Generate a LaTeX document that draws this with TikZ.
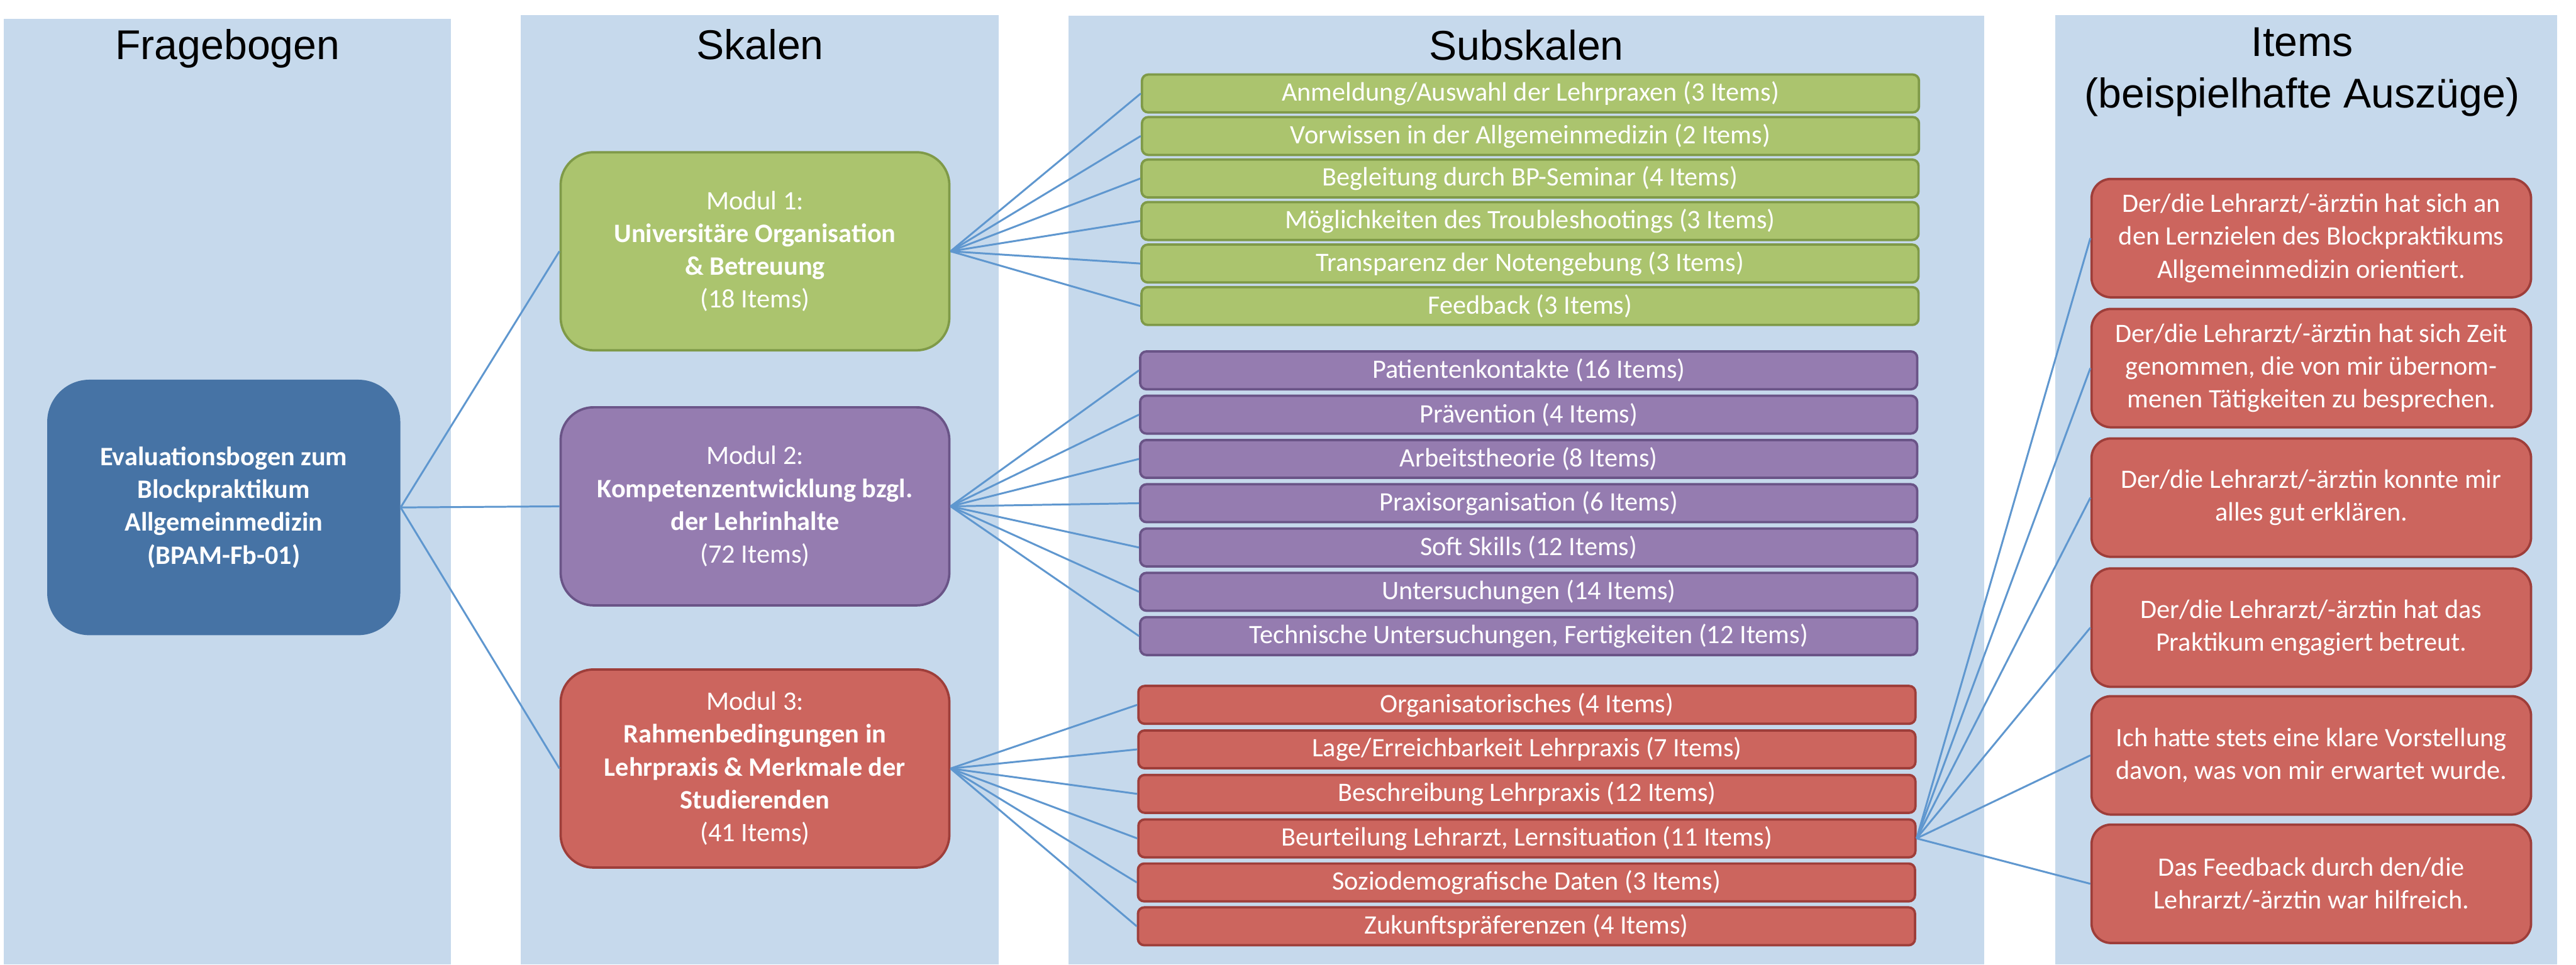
\documentclass[tikz,border=0pt]{standalone}
\usepackage{fontspec}
\setmainfont{Carlito}
\newfontfamily\headfont{Liberation Sans}

\definecolor{colbg}{HTML}{C6D9EC}
\definecolor{evalblau}{HTML}{4673A5}
\definecolor{gruen}{HTML}{ABC46E}
\definecolor{gruenrand}{HTML}{7F9A48}
\definecolor{lila}{HTML}{957CB0}
\definecolor{lilarand}{HTML}{6A5487}
\definecolor{rot}{HTML}{CC655E}
\definecolor{rotrand}{HTML}{9E3E3A}
\definecolor{linie}{HTML}{5F97CF}

\begin{document}
\begin{tikzpicture}[
    spalte/.style={fill=colbg},
    kopf/.style={font=\headfont\fontsize{26.6}{33}\selectfont, align=center},
    haupt/.style={fill=evalblau, rounded corners=0.95cm,
                  minimum width=7.93cm, minimum height=5.74cm,
                  align=center, text=white, font=\bfseries\fontsize{17}{21}\selectfont},
    modul/.style={draw, line width=1.5pt, rounded corners=0.74cm,
                  minimum width=8.73cm, minimum height=4.45cm,
                  align=center, text=white, font=\fontsize{17}{21}\selectfont},
    sub/.style={draw, line width=1.5pt, rounded corners=0.14cm, inner sep=0pt,
                minimum width=17.45cm, minimum height=0.85cm,
                text=white, font=\fontsize{17}{21}\selectfont},
    beispiel/.style={draw=rotrand, fill=rot, line width=1.5pt, rounded corners=0.44cm,
                     minimum width=9.87cm, minimum height=2.66cm,
                     align=center, text=white, font=\fontsize{17}{21}\selectfont},
    rel/.style={draw=linie, line width=1.2pt}
]

\useasboundingbox[fill=white] (0,0) rectangle (57.85,-21.67);

% Spalten
\fill[spalte] (0.09,-0.42) rectangle (10.13,-21.67);
\fill[spalte] (11.70,-0.34) rectangle (22.43,-21.67);
\fill[spalte] (24.00,-0.35) rectangle (44.56,-21.67);
\fill[spalte] (46.15,-0.34) rectangle (57.42,-21.67);

% Ueberschriften
\node[kopf, anchor=base] (hbogen) at (5.11,-1.34)  {Fragebogen};
\node[kopf, anchor=base] (hskalen) at (17.07,-1.34) {Skalen};
\node[kopf, anchor=base] (hsub) at (34.28,-1.35)   {Subskalen};
\node[kopf] (hitems) at (51.70,-1.62) {Items\\(beispielhafte Auszüge)};

% Fragebogen
\node[haupt] (bogen) at (5.025,-11.40)
    {Evaluationsbogen zum\\Blockpraktikum\\Allgemeinmedizin\\(BPAM-Fb-01)};

% Module (Skalen)
\node[modul, draw=gruenrand, fill=gruen] (orga) at (16.955,-5.645)
    {Modul 1:\\\textbf{Universitäre Organisation}\\\textbf{\& Betreuung}\\(18 Items)};
\node[modul, draw=lilarand, fill=lila] (komp) at (16.955,-11.375)
    {Modul 2:\\\textbf{Kompetenzentwicklung bzgl.}\\\textbf{der Lehrinhalte}\\(72 Items)};
\node[modul, draw=rotrand, fill=rot] (rahmen) at (16.955,-17.265)
    {Modul 3:\\\textbf{Rahmenbedingungen in}\\\textbf{Lehrpraxis \& Merkmale der}\\\textbf{Studierenden}\\(41 Items)};

% Subskalen Modul 1
\node[sub, draw=gruenrand, fill=gruen] (anmeldung)   at (34.37,-2.10)  {Anmeldung/Auswahl der Lehrpraxen (3 Items)};
\node[sub, draw=gruenrand, fill=gruen] (vorwissen)   at (34.37,-3.055) {Vorwissen in der Allgemeinmedizin (2 Items)};
\node[sub, draw=gruenrand, fill=gruen] (begleitung)  at (34.36,-4.01)  {Begleitung durch BP-Seminar (4 Items)};
\node[sub, draw=gruenrand, fill=gruen] (trouble)     at (34.36,-4.965) {Möglichkeiten des Troubleshootings (3 Items)};
\node[sub, draw=gruenrand, fill=gruen] (transparenz) at (34.36,-5.92)  {Transparenz der Notengebung (3 Items)};
\node[sub, draw=gruenrand, fill=gruen] (feedback)    at (34.36,-6.875) {Feedback (3 Items)};

% Subskalen Modul 2
\node[sub, draw=lilarand, fill=lila] (patienten)  at (34.33,-8.32)  {Patientenkontakte (16 Items)};
\node[sub, draw=lilarand, fill=lila] (praevention) at (34.33,-9.315) {Prävention (4 Items)};
\node[sub, draw=lilarand, fill=lila] (theorie)    at (34.33,-10.31) {Arbeitstheorie (8 Items)};
\node[sub, draw=lilarand, fill=lila] (praxisorga) at (34.33,-11.305) {Praxisorganisation (6 Items)};
\node[sub, draw=lilarand, fill=lila] (soft)       at (34.33,-12.30) {Soft Skills (12 Items)};
\node[sub, draw=lilarand, fill=lila] (unters)     at (34.33,-13.295) {Untersuchungen (14 Items)};
\node[sub, draw=lilarand, fill=lila] (technik)    at (34.33,-14.29) {Technische Untersuchungen, Fertigkeiten (12 Items)};

% Subskalen Modul 3
\node[sub, draw=rotrand, fill=rot] (organis)   at (34.29,-15.835) {Organisatorisches (4 Items)};
\node[sub, draw=rotrand, fill=rot] (lage)      at (34.29,-16.835) {Lage/Erreichbarkeit Lehrpraxis (7 Items)};
\node[sub, draw=rotrand, fill=rot] (beschr)    at (34.29,-17.835) {Beschreibung Lehrpraxis (12 Items)};
\node[sub, draw=rotrand, fill=rot] (beurteil)  at (34.29,-18.835) {Beurteilung Lehrarzt, Lernsituation (11 Items)};
\node[sub, draw=rotrand, fill=rot] (sozio)     at (34.28,-19.825) {Soziodemografische Daten (3 Items)};
\node[sub, draw=rotrand, fill=rot] (zukunft)   at (34.28,-20.81)  {Zukunftspräferenzen (4 Items)};

% Items
\node[beispiel] (ziele)     at (51.905,-5.35)
    {Der/die Lehrarzt/-ärztin hat sich an\\den Lernzielen des Blockpraktikums\\Allgemeinmedizin orientiert.};
\node[beispiel] (zeit)      at (51.905,-8.27)
    {Der/die Lehrarzt/-ärztin hat sich Zeit\\genommen, die von mir übernom-\\menen Tätigkeiten zu besprechen.};
\node[beispiel] (erklaeren) at (51.905,-11.18)
    {Der/die Lehrarzt/-ärztin konnte mir\\alles gut erklären.};
\node[beispiel] (betreut)   at (51.905,-14.10)
    {Der/die Lehrarzt/-ärztin hat das\\Praktikum engagiert betreut.};
\node[beispiel] (vorstell)  at (51.905,-16.97)
    {Ich hatte stets eine klare Vorstellung\\davon, was von mir erwartet wurde.};
\node[beispiel] (hilfreich) at (51.905,-19.855)
    {Das Feedback durch den/die\\Lehrarzt/-ärztin war hilfreich.};

% Fragebogen -> Module
\draw[rel] (bogen.east) -- (orga.west);
\draw[rel] (bogen.east) -- (komp.west);
\draw[rel] (bogen.east) -- (rahmen.west);

% Modul 1 -> Subskalen
\draw[rel] (orga.east) -- (anmeldung.west);
\draw[rel] (orga.east) -- (vorwissen.west);
\draw[rel] (orga.east) -- (begleitung.west);
\draw[rel] (orga.east) -- (trouble.west);
\draw[rel] (orga.east) -- (transparenz.west);
\draw[rel] (orga.east) -- (feedback.west);

% Modul 2 -> Subskalen
\draw[rel] (komp.east) -- (patienten.west);
\draw[rel] (komp.east) -- (praevention.west);
\draw[rel] (komp.east) -- (theorie.west);
\draw[rel] (komp.east) -- (praxisorga.west);
\draw[rel] (komp.east) -- (soft.west);
\draw[rel] (komp.east) -- (unters.west);
\draw[rel] (komp.east) -- (technik.west);

% Modul 3 -> Subskalen
\draw[rel] (rahmen.east) -- (organis.west);
\draw[rel] (rahmen.east) -- (lage.west);
\draw[rel] (rahmen.east) -- (beschr.west);
\draw[rel] (rahmen.east) -- (beurteil.west);
\draw[rel] (rahmen.east) -- (sozio.west);
\draw[rel] (rahmen.east) -- (zukunft.west);

% Beurteilung -> Items
\draw[rel] (beurteil.east) -- (ziele.west);
\draw[rel] (beurteil.east) -- (zeit.west);
\draw[rel] (beurteil.east) -- (erklaeren.west);
\draw[rel] (beurteil.east) -- (betreut.west);
\draw[rel] (beurteil.east) -- (vorstell.west);
\draw[rel] (beurteil.east) -- (hilfreich.west);

\end{tikzpicture}
\end{document}
